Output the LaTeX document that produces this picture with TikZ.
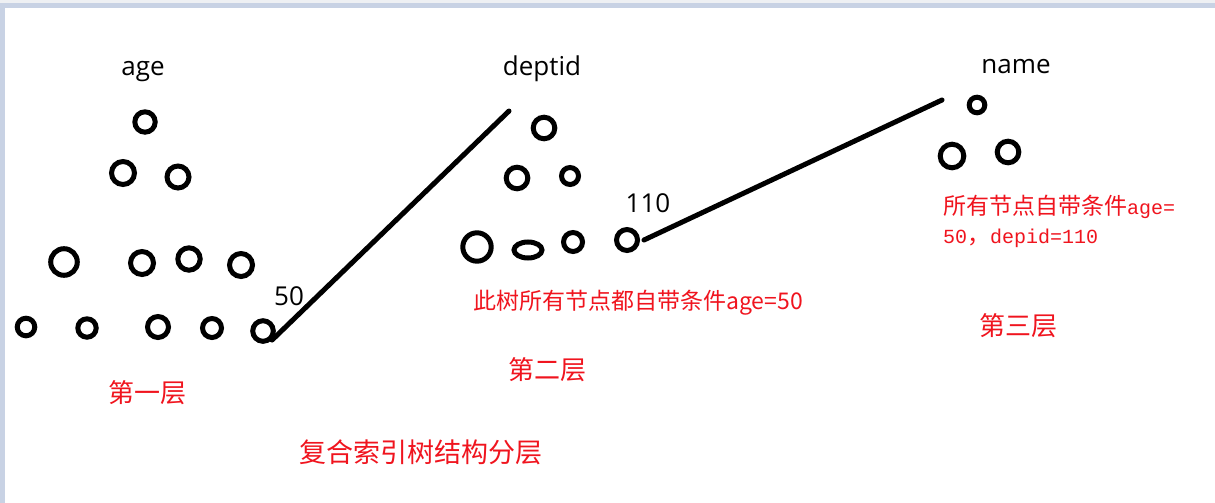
\documentclass[tikz,border=0pt]{standalone}
\usepackage{fontspec}
\usetikzlibrary{shapes.geometric}
\newfontfamily\latfont{Open Sans}
\newfontfamily\cjk{Noto Sans CJK SC}
\newfontfamily\monofont{Liberation Mono}
\definecolor{framebl}{RGB}{200,210,228}
\definecolor{framegr}{RGB}{238,240,243}
\definecolor{redtxt}{RGB}{240,20,30}
\tikzset{
  ring/.style={circle,draw=black,line width=5pt,inner sep=0pt,minimum size=#1},
  oval/.style={ellipse,draw=black,line width=5pt,inner sep=0pt,minimum width=28pt,minimum height=16pt},
  keylabel/.style={font=\latfont\fontsize{26}{30}\selectfont,anchor=base,inner sep=0pt,text=black},
  numlabel/.style={font=\latfont\fontsize{26}{30}\selectfont,anchor=base,inner sep=0pt,text=black},
  layer/.style={font=\cjk\fontsize{26}{30}\selectfont,text=redtxt,inner sep=0pt},
  note/.style={font=\cjk\fontsize{23}{28}\selectfont,text=redtxt,inner sep=0pt},
  link/.style={line width=5pt,line cap=round,draw=black}
}
\begin{document}
\begin{tikzpicture}[x=1pt,y=-1pt]
\useasboundingbox (0,0) rectangle (1215,503);
\fill[white] (0,0) rectangle (1215,503);
\fill[framegr] (0,0) rectangle (1215,3);
\fill[framebl] (0,3) rectangle (1215,8);
\fill[framebl] (0,3) rectangle (5,503);

% first tree
\node[keylabel] (lage) at (143,75) {age};
\node[ring=20.4pt] (a1) at (145,122) {};
\node[ring=23pt] (a2) at (123,173) {};
\node[ring=22pt] (a3) at (178,177) {};
\node[ring=26.6pt] (a4) at (64,262) {};
\node[ring=23pt] (a5) at (142,263) {};
\node[ring=22.4pt] (a6) at (189,259) {};
\node[ring=23pt] (a7) at (241,265) {};
\node[ring=17.6pt] (a8) at (26,327) {};
\node[ring=18.4pt] (a9) at (87,328) {};
\node[ring=21pt] (a10) at (158,327) {};
\node[ring=19pt] (a11) at (212,328) {};
\node[ring=20.6pt] (a12) at (263,331) {};
\node[numlabel] (n50) at (289,305) {50};

% second tree
\node[keylabel] (ldept) at (542,76) {deptid};
\node[ring=21.6pt] (b1) at (544,128) {};
\node[ring=21.6pt] (b3) at (517,178) {};
\node[ring=17pt] (b4) at (570,176) {};
\node[ring=28.4pt] (b5) at (477,247) {};
\node[oval] (b2) at (528,250) {};
\node[ring=19pt] (b6) at (573,242) {};
\node[ring=21pt] (b7) at (627,240) {};
\node[numlabel] (n110) at (648,212) {110};

% third tree
\node[keylabel] (lname) at (1016,74) {name};
\node[ring=15.6pt] (c1) at (977,105) {};
\node[ring=23.6pt] (c2) at (952,156) {};
\node[ring=21.6pt] (c3) at (1008,152) {};

% connectors
\coordinate (e1) at (509,111);
\coordinate (e2) at (942,100);
\draw[link] (a12.south east) -- (e1);
\draw[link] ([xshift=4pt]b7.east) -- (e2);

% red texts
\node[layer] (t1) at (147,393) {第一层};
\node[layer] (t2) at (547,370) {第二层};
\node[layer] (t3) at (1018,326) {第三层};
\node[layer,font=\cjk\fontsize{27}{30}\selectfont] (tt) at (421,452) {复合索引树结构分层};
\node[note,anchor=west] (nt2) at (473,303) {此树所有节点都自带条件age=50};
\node[note,anchor=west,align=left,font=\cjk\fontsize{23}{29}\selectfont] (nt3) at (943,221)
  {所有节点自带条件{\monofont\fontsize{20}{29}\selectfont age=}\\
   {\monofont\fontsize{20}{29}\selectfont 50}，{\monofont\fontsize{20}{29}\selectfont depid=110}};
\end{tikzpicture}
\end{document}
